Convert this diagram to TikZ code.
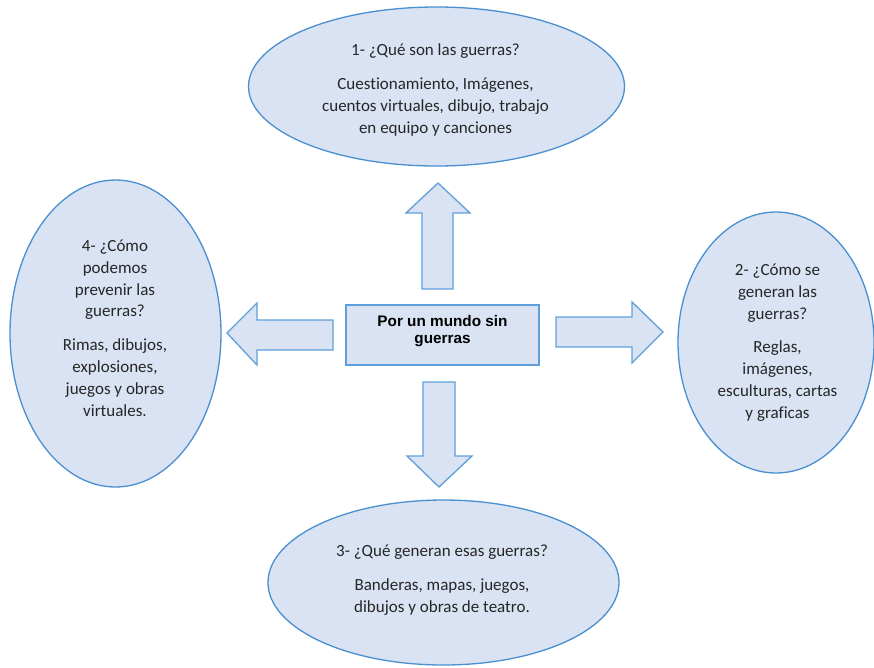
\documentclass[tikz,border=0pt]{standalone}
\usepackage{fontspec}
\setmainfont{Carlito}[Ligatures=NoCommon]
\newfontfamily\arialfont{Liberation Sans}
\usetikzlibrary{shapes.geometric}
\definecolor{fillblue}{HTML}{DAE3F3}
\definecolor{edgeblue}{HTML}{4A8FD0}
\definecolor{arrowedge}{HTML}{5E9FDA}
\definecolor{txt}{HTML}{262626}
\tikzset{
  bubble/.style={ellipse, draw=edgeblue, fill=fillblue, line width=1.3pt, inner sep=0pt},
  bubbletext/.style={align=center, text=txt, inner sep=0pt, font=\fontsize{17}{21.8}\selectfont},
  centerbox/.style={rectangle, draw=arrowedge, fill=fillblue, line width=1.3pt, inner sep=0pt,
    minimum width=193pt, minimum height=60pt},
  centertext/.style={align=center, text=black, inner sep=0pt,
    font=\arialfont\bfseries\fontsize{15.3}{17.3}\selectfont},
  blockarrow/.style={draw=arrowedge, fill=fillblue, line width=1.3pt, line join=miter}
}
\newcommand{\gap}{\\[12pt]}
\begin{document}
\begin{tikzpicture}[x=1pt,y=-1pt]
\useasboundingbox (0,0) rectangle (874,667);
% ellipses
\node[bubble, minimum width=376pt, minimum height=159pt] (q1) at (436.5,86.5) {};
\node[bubbletext] (q1t) at (435.5,90)
  {1- ¿Qué son las guerras?\gap Cuestionamiento, Imágenes,\\cuentos virtuales, dibujo, trabajo\\en equipo y canciones};
\node[bubble, minimum width=196pt, minimum height=261pt] (q2) at (776,342.5) {};
\node[bubbletext] (q2t) at (777.5,342.5)
  {2- ¿Cómo se\\generan las\\guerras?\gap Reglas,\\imágenes,\\esculturas, cartas\\y graficas};
\node[bubble, minimum width=351pt, minimum height=165pt] (q3) at (443.5,582.5) {};
\node[bubbletext] (q3t) at (442,580)
  {3- ¿Qué generan esas guerras?\gap Banderas, mapas, juegos,\\dibujos y obras de teatro.};
\node[bubble, minimum width=211pt, minimum height=307pt] (q4) at (115.5,333.5) {};
\node[bubbletext] (q4t) at (115,328)
  {4- ¿Cómo\\podemos\\prevenir las\\guerras?\gap Rimas, dibujos,\\explosiones,\\juegos y obras\\virtuales.};
% center
\node[centerbox] (c) at (442.5,335) {};
\node[centertext] (ct) at (442.5,331) {Por un mundo sin\\guerras};
% arrows
\draw[blockarrow] (422,289) -- (422,213) -- (406,213) -- (438,183) -- (470,213) -- (453,213) -- (453,289) -- cycle;
\draw[blockarrow] (333,320) -- (257,320) -- (257,303) -- (227,333) -- (257,365) -- (257,350) -- (333,350) -- cycle;
\draw[blockarrow] (556,317) -- (632,317) -- (632,302) -- (663,332) -- (632,363) -- (632,347) -- (556,347) -- cycle;
\draw[blockarrow] (423,382) -- (455,382) -- (455,456) -- (472,456) -- (439,487) -- (407,456) -- (423,456) -- cycle;
\end{tikzpicture}
\end{document}
